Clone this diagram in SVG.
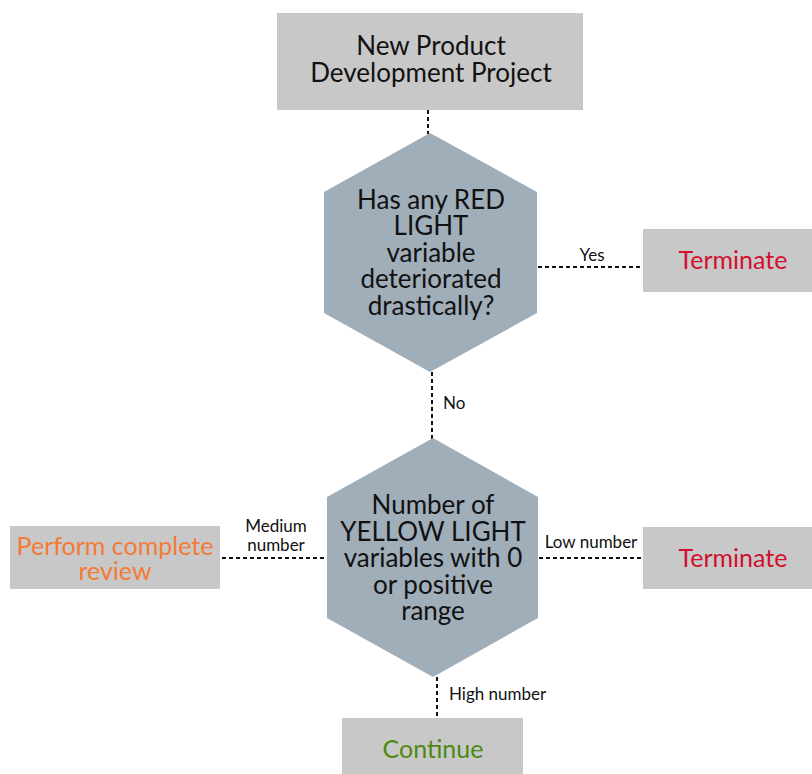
<svg xmlns="http://www.w3.org/2000/svg" width="812" height="774" viewBox="0 0 812 774">
<style>
.box{fill:#c8c8c8}
.hex{fill:#a0aeba}
.t{font-family:Lato,"Noto Sans",sans-serif;font-size:26px;fill:#111;text-anchor:middle}
.k{font-size:25px}
.lbl{font-family:Lato,"Noto Sans",sans-serif;font-size:17px;fill:#111}
.red{fill:#d2102e}
.orange{fill:#f57a35}
.green{fill:#4e8a12}
.c{stroke:#111;stroke-width:2;stroke-dasharray:4 3;fill:none}
</style>
<rect width="812" height="774" fill="#fff"/>
<g id="connectors">
<line class="c" x1="428" y1="110" x2="428" y2="134"/>
<line class="c" x1="538" y1="267" x2="643" y2="267"/>
<line class="c" x1="432" y1="372" x2="432" y2="439"/>
<line class="c" x1="222" y1="558" x2="327" y2="558"/>
<line class="c" x1="539" y1="558" x2="643" y2="558"/>
<line class="c" x1="437" y1="677" x2="437" y2="718"/>
<text class="lbl" x="592" y="261" text-anchor="middle">Yes</text>
<text class="lbl" x="443" y="409">No</text>
<text class="lbl" x="276" y="532" text-anchor="middle">Medium</text>
<text class="lbl" x="276" y="551" text-anchor="middle">number</text>
<text class="lbl" x="591" y="548" text-anchor="middle">Low number</text>
<text class="lbl" x="449" y="700">High number</text>
</g>
<g id="start">
<rect class="box" x="277" y="13" width="306" height="97"/>
<text class="t" x="431" y="55">New Product</text>
<text class="t" x="431" y="82">Development Project</text>
</g>
<g id="decision1">
<polygon class="hex" points="430,133 537,192 537,313 430,372 324,313 324,192"/>
<text class="t" x="431" y="209">Has any RED</text>
<text class="t" x="431" y="235">LIGHT</text>
<text class="t" x="431" y="262">variable</text>
<text class="t" x="431" y="288">deteriorated</text>
<text class="t" x="431" y="315">drastically?</text>
</g>
<g id="terminate1">
<rect class="box" x="643" y="229" width="169" height="63"/>
<text class="t k red" x="733" y="269">Terminate</text>
</g>
<g id="decision2">
<polygon class="hex" points="433,438 538,497 538,618 433,677 327,618 327,497"/>
<text class="t" x="433" y="514">Number of</text>
<text class="t" x="433" y="541">YELLOW LIGHT</text>
<text class="t" x="433" y="567">variables with 0</text>
<text class="t" x="433" y="594">or positive</text>
<text class="t" x="433" y="620">range</text>
</g>
<g id="review">
<rect class="box" x="10" y="526" width="210" height="63"/>
<text class="t k orange" x="115" y="555">Perform complete</text>
<text class="t k orange" x="115" y="580">review</text>
</g>
<g id="terminate2">
<rect class="box" x="643" y="527" width="169" height="62"/>
<text class="t k red" x="733" y="567">Terminate</text>
</g>
<g id="continue">
<rect class="box" x="342" y="718" width="181" height="56"/>
<text class="t k green" x="433" y="758">Continue</text>
</g>
</svg>
